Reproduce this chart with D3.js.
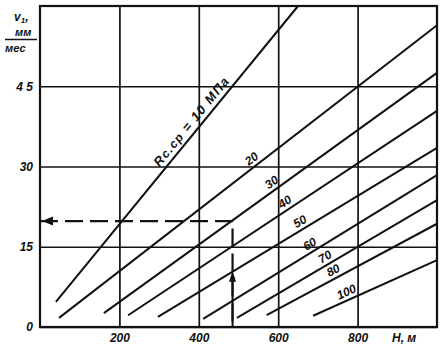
<!DOCTYPE html>
<html>
<head>
<meta charset="utf-8">
<script src="https://cdn.jsdelivr.net/npm/d3@7/dist/d3.min.js"></script>
<style>
  body { margin: 0; background: #fff; }
  text { font-family: "Liberation Sans", Arial, sans-serif; font-style: italic; font-weight: bold; fill: #111; }
</style>
</head>
<body>
<div id="chart"></div>
<script>
// Strength lines R c.cp (MPa): start and end points
var strengths = [10, 20, 30, 40, 50, 60, 70, 80, 100];
var hStart = [40, 48, 161, 222, 297, 411, 496, 571, 688];
var vStart = [4.7, 1.7, 2.6, 2.2, 1.9, 1.5, 1.7, 2.2, 2.1];
var hEnd = [650, 1000, 1000, 1000, 1000, 1000, 1000, 1000, 1000];
var vEnd = [60, 56.4, 47.5, 40.4, 33.5, 28.4, 23.7, 19.3, 12.5];
// where along each line its label sits (H, m)
var labelH = [400, 545, 595, 628, 665, 690, 728, 748, 780];

var xTicks = [200, 400, 600, 800];
var yTicks = [0, 15, 30, 45];
var yTickText = ["0", "15", "30", "4 5"];

// worked example: H = 485 m on the 30 MPa line
var exampleH = 485, exampleV = 19.8, arrowV = 10.5;

var margin = { top: 6, right: 6, bottom: 26, left: 40 },
    width = 443 - margin.left - margin.right,
    height = 353 - margin.top - margin.bottom;

var x = d3.scaleLinear().domain([0, 1000]).range([0, width]);
var y = d3.scaleLinear().domain([0, 60]).range([height, 0]);

var svg = d3.select("#chart").append("svg")
    .attr("width", 443)
    .attr("height", 353)
    .append("g")
    .attr("transform", "translate(" + margin.left + "," + margin.top + ")");

// grid + tick labels
var gx = svg.append("g")
    .attr("transform", "translate(0," + height + ")")
    .call(d3.axisBottom(x).tickValues(xTicks).tickSize(-height).tickPadding(6));
var gy = svg.append("g")
    .call(d3.axisLeft(y).tickValues(yTicks).tickSize(-width).tickPadding(7)
        .tickFormat(function (d, i) { return yTickText[i]; }));
[gx, gy].forEach(function (g) {
    g.select(".domain").remove();
    g.selectAll("line").attr("stroke", "#111").attr("stroke-width", 1.7);
    g.selectAll("text").style("font-size", "12px").attr("fill", "#111");
});

// frame
svg.append("rect")
    .attr("width", width).attr("height", height)
    .attr("fill", "none").attr("stroke", "#111").attr("stroke-width", 2.2);

// strength lines
var lines = strengths.map(function (s, i) {
    return { s: s, h0: hStart[i], v0: vStart[i], h1: hEnd[i], v1: vEnd[i], lh: labelH[i] };
});

svg.selectAll(".rline")
    .data(lines)
    .enter().append("line")
    .attr("class", "rline")
    .attr("x1", function (d) { return x(d.h0); })
    .attr("y1", function (d) { return y(d.v0); })
    .attr("x2", function (d) { return x(d.h1); })
    .attr("y2", function (d) { return y(d.v1); })
    .attr("stroke", "#111")
    .attr("stroke-width", 2);

// labels along the lines
var labels = svg.selectAll(".rlabel")
    .data(lines)
    .enter().append("text")
    .attr("class", "rlabel")
    .attr("transform", function (d) {
        var t = (d.lh - d.h0) / (d.h1 - d.h0);
        var lv = d.v0 + t * (d.v1 - d.v0);
        var ang = Math.atan2(y(d.v1) - y(d.v0), x(d.h1) - x(d.h0)) * 180 / Math.PI;
        return "translate(" + x(d.lh) + "," + y(lv) + ") rotate(" + ang + ")";
    })
    .attr("y", function (d) { return d.s === 10 ? -5 : -4; })
    .attr("text-anchor", "middle")
    .style("font-size", "12px");

labels.filter(function (d) { return d.s !== 10; })
    .text(function (d) { return d.s; });

var first = labels.filter(function (d) { return d.s === 10; })
    .style("font-size", "13px")
    .style("letter-spacing", "1.3px");
first.append("tspan").text("R");
first.append("tspan").style("font-size", "12px").text("с.ср");
first.append("tspan").text(" = 10 МПа");

// dashed example path
svg.append("path")
    .attr("d", "M" + x(0) + "," + y(exampleV) + "H" + x(exampleH) + "V" + y(0))
    .attr("fill", "none")
    .attr("stroke", "#111")
    .attr("stroke-width", 2.2)
    .attr("stroke-dasharray", "18,7");

// arrowheads
var ax = x(0) + 2, ay = y(exampleV);
svg.append("path")
    .attr("d", "M" + ax + "," + ay + "l11,-4.5l0,9z")
    .attr("fill", "#111");
var ux = x(exampleH), uy = y(arrowV);
svg.append("path")
    .attr("d", "M" + ux + "," + uy + "l-3.5,11l7,0z")
    .attr("fill", "#111");
svg.append("line")
    .attr("x1", ux).attr("x2", ux)
    .attr("y1", uy + 8).attr("y2", y(0))
    .attr("stroke", "#111").attr("stroke-width", 2);

// axis titles
svg.append("text")
    .attr("x", 392 - margin.left).attr("y", 342 - margin.top)
    .style("font-size", "12px")
    .text("H, м");

var yl = svg.append("text")
    .attr("x", 14 - margin.left).attr("y", 21 - margin.top)
    .style("font-size", "12px");
yl.append("tspan").text("v");
yl.append("tspan").attr("dy", 2).style("font-size", "8px").text("1");
yl.append("tspan").attr("dy", -2).text(",");

svg.append("text")
    .attr("x", 15 - margin.left).attr("y", 36 - margin.top)
    .style("font-size", "11px")
    .text("мм");
svg.append("line")
    .attr("x1", 5 - margin.left).attr("x2", 37 - margin.left)
    .attr("y1", 39.5 - margin.top).attr("y2", 39.5 - margin.top)
    .attr("stroke", "#111").attr("stroke-width", 1.5);
svg.append("text")
    .attr("x", 5 - margin.left).attr("y", 52 - margin.top)
    .style("font-size", "11px")
    .text("мес");
</script>
</body>
</html>
